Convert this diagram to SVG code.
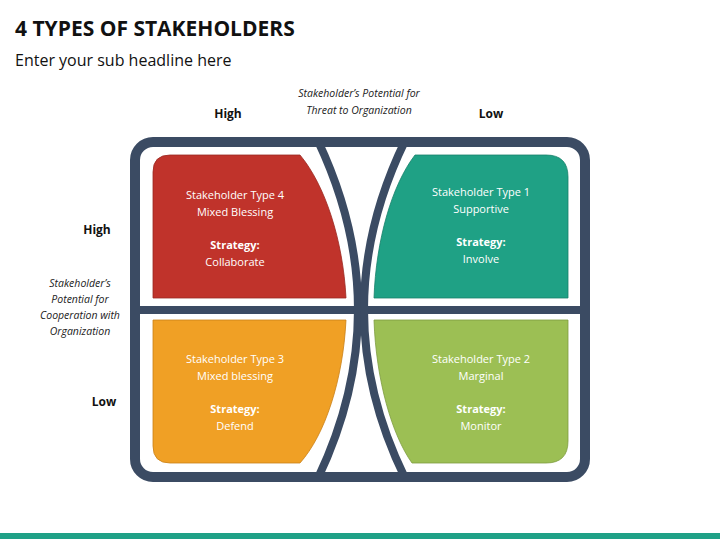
<svg xmlns="http://www.w3.org/2000/svg" width="720" height="539" viewBox="0 0 720 539">
<style>
text{font-family:"Open Sans","Liberation Sans",sans-serif}
.q{fill:#fff;font-size:11px;text-anchor:middle}
.b{font-weight:bold}
.ax{font-size:12px;font-weight:bold;fill:#111;text-anchor:middle}
.it{font-size:10.5px;font-style:italic;fill:#222;text-anchor:middle}
.ln{fill:none;stroke:#3b4b63}
</style>
<rect width="720" height="539" fill="#fff"/>
<text x="15" y="36" font-size="21" font-weight="bold" fill="#111">4 TYPES OF STAKEHOLDERS</text>
<text x="15" y="66" font-size="16" fill="#111">Enter your sub headline here</text>
<text class="it" x="359" y="97">Stakeholder’s Potential for</text>
<text class="it" x="359" y="114">Threat to Organization</text>
<text class="ax" x="228" y="118">High</text>
<text class="ax" x="491" y="118">Low</text>
<text class="ax" x="97" y="234">High</text>
<text class="it" x="80" y="287">Stakeholder’s</text>
<text class="it" x="80" y="303">Potential for</text>
<text class="it" x="80" y="319">Cooperation with</text>
<text class="it" x="80" y="335">Organization</text>
<text class="ax" x="104" y="406">Low</text>
<g id="frame">
<rect class="ln" x="135" y="142" width="450" height="335" rx="18" stroke-width="10"/>
<line class="ln" x1="135" y1="310" x2="585" y2="310" stroke-width="8"/>
<path class="ln" d="M318,141 Q398,310 318,478" stroke-width="8"/>
<path class="ln" d="M405,141 Q323,310 405,478" stroke-width="8"/>
</g>
<g id="type4">
<path d="M153,172 Q153,155 170,155 L300,155 C325,185 343,240 346,298 L153,298 Z" fill="#c0332b" stroke="#9a2a22" stroke-width="0.8"/>
<text class="q" x="235" y="199">Stakeholder Type 4</text>
<text class="q" x="235" y="216">Mixed Blessing</text>
<text class="q b" x="235" y="249">Strategy:</text>
<text class="q" x="235" y="266">Collaborate</text>
</g>
<g id="type1">
<path d="M415,155 L546,155 Q568,155 568,177 L568,298 L374,298 C376,240 392,185 415,155 Z" fill="#1fa185" stroke="#17806a" stroke-width="0.8"/>
<text class="q" x="481" y="196">Stakeholder Type 1</text>
<text class="q" x="481" y="213">Supportive</text>
<text class="q b" x="481" y="246">Strategy:</text>
<text class="q" x="481" y="263">Involve</text>
</g>
<g id="type3">
<path d="M153,320 L346,320 C343,380 325,435 300,463 L170,463 Q153,463 153,446 Z" fill="#f0a025" stroke="#c98018" stroke-width="0.8"/>
<text class="q" x="235" y="363">Stakeholder Type 3</text>
<text class="q" x="235" y="380">Mixed blessing</text>
<text class="q b" x="235" y="413">Strategy:</text>
<text class="q" x="235" y="430">Defend</text>
</g>
<g id="type2">
<path d="M374,320 L568,320 L568,441 Q568,463 546,463 L412,463 C392,435 376,380 374,320 Z" fill="#9cbf54" stroke="#7d9c40" stroke-width="0.8"/>
<text class="q" x="481" y="363">Stakeholder Type 2</text>
<text class="q" x="481" y="380">Marginal</text>
<text class="q b" x="481" y="413">Strategy:</text>
<text class="q" x="481" y="430">Monitor</text>
</g>
<rect x="0" y="533" width="720" height="6" fill="#1fa187"/>
</svg>
